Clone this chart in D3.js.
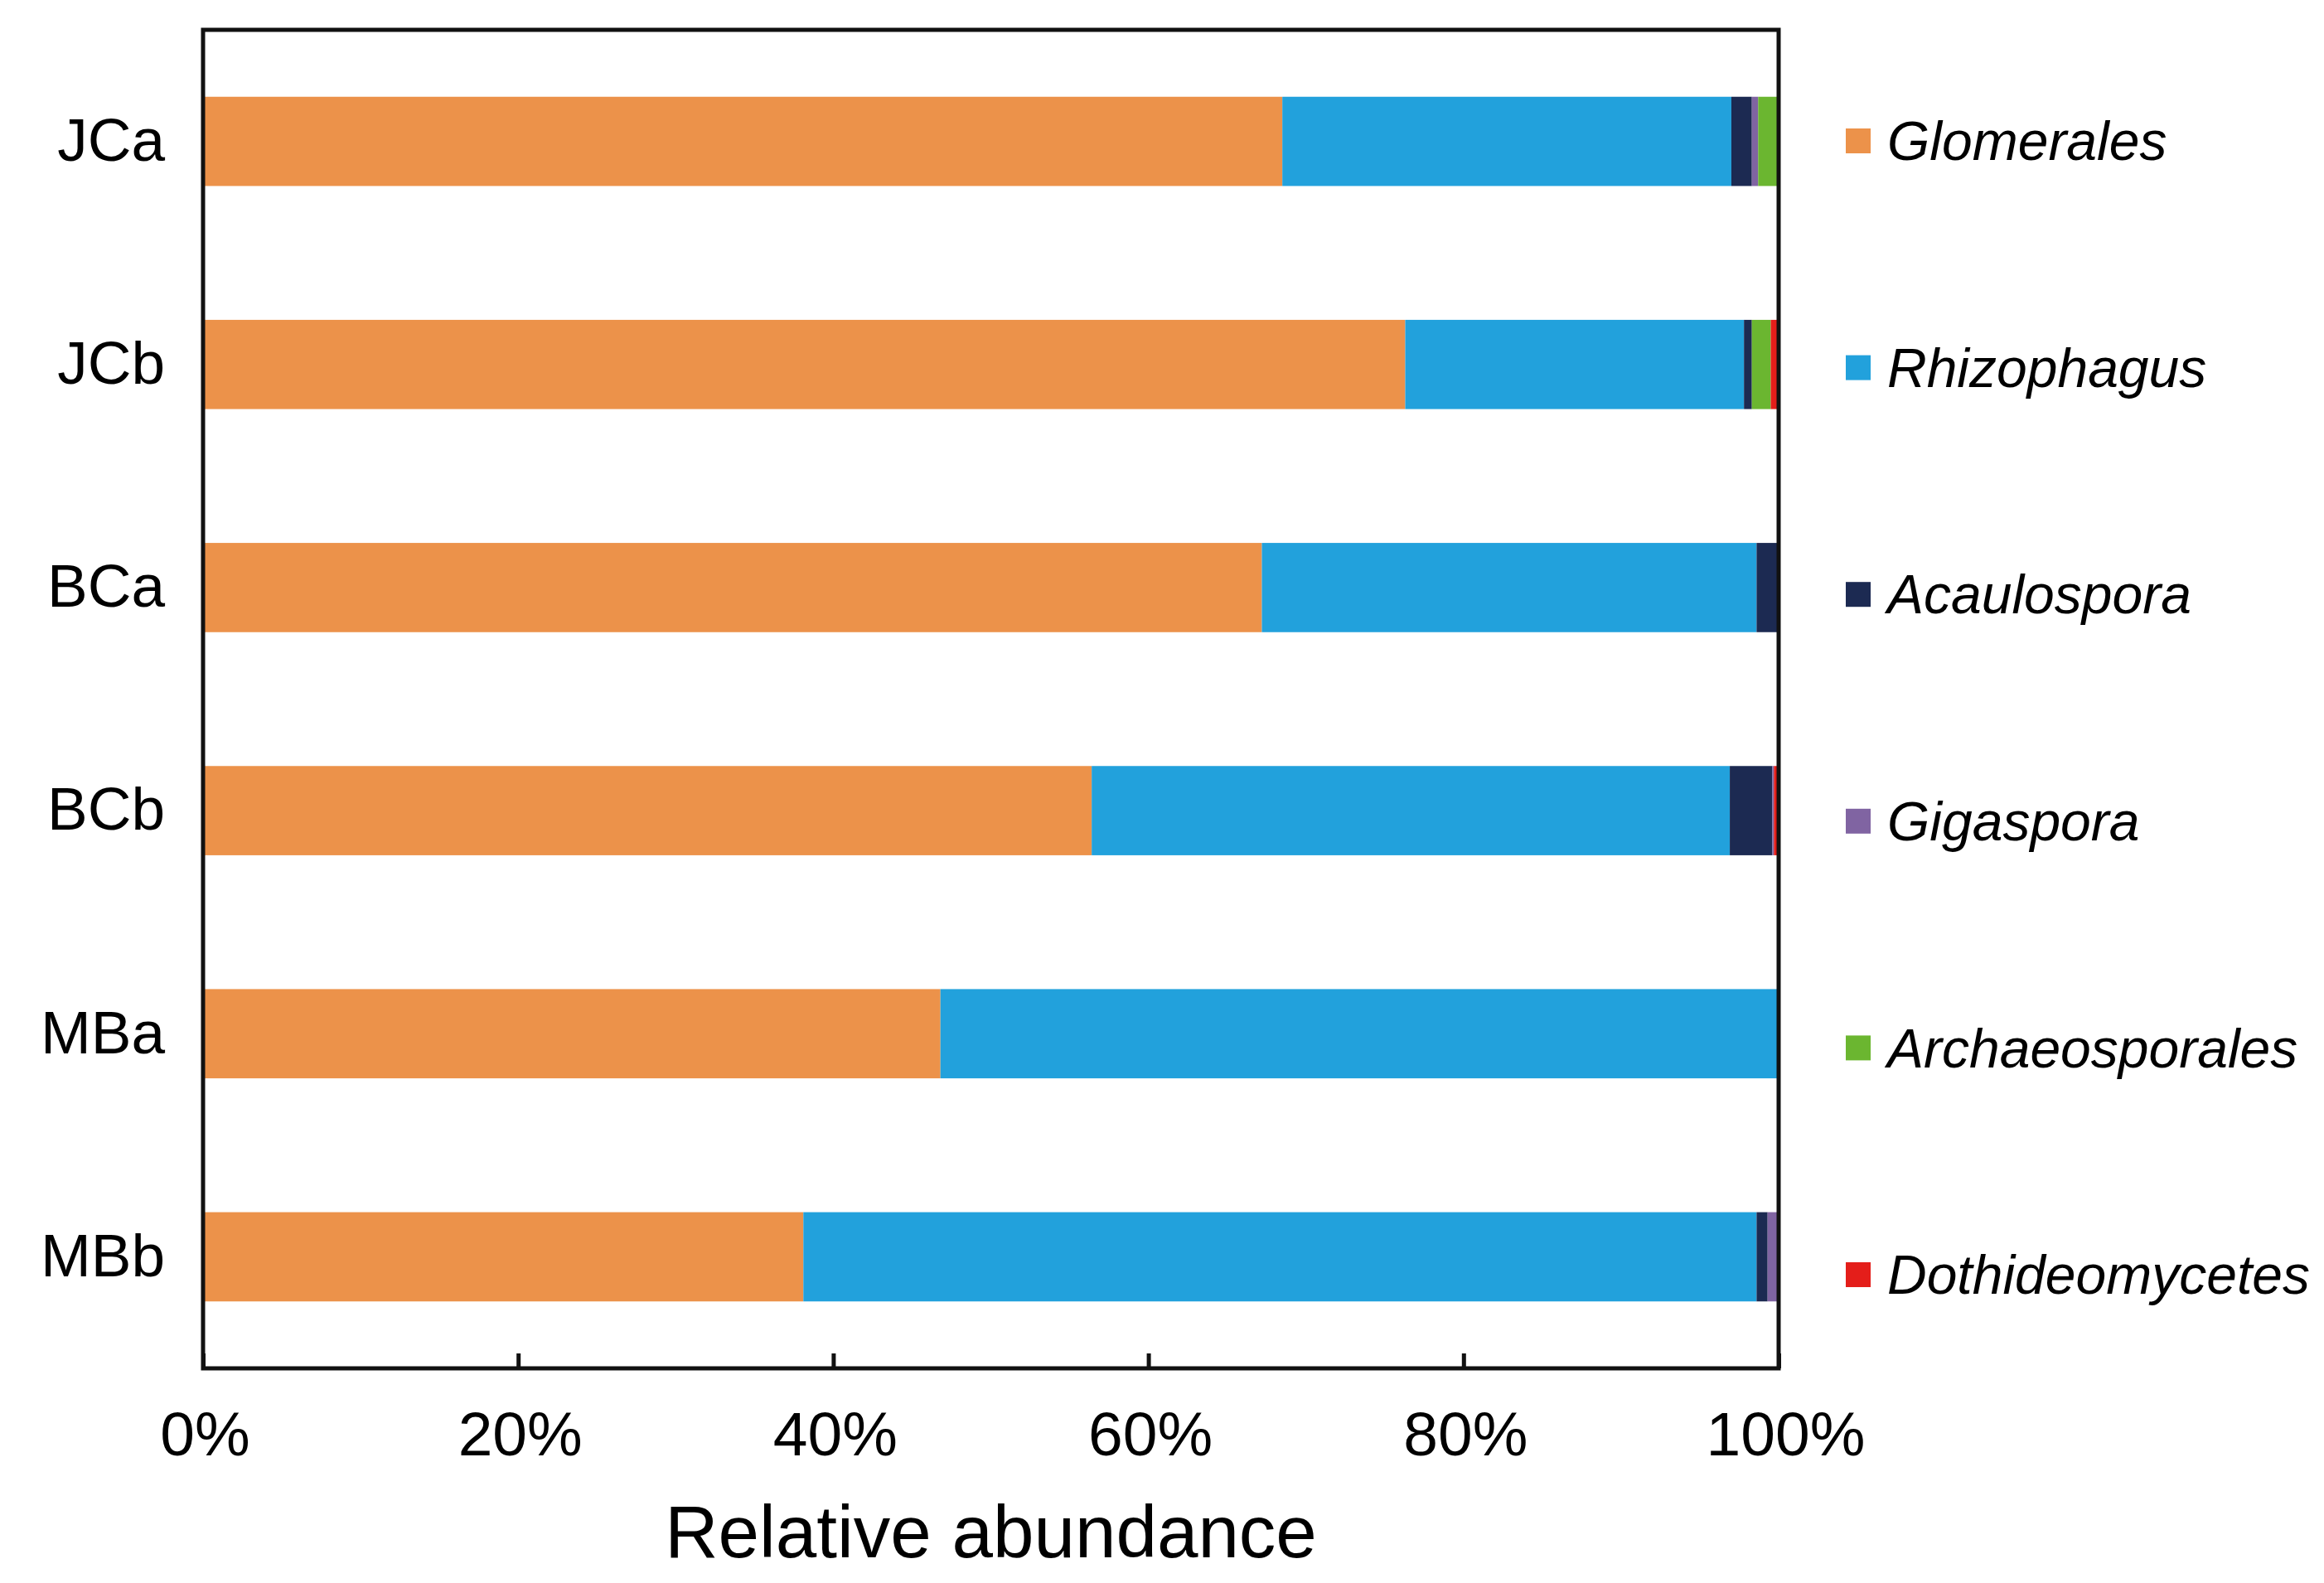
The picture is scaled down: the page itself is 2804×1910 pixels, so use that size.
<!DOCTYPE html>
<html>
<head>
<meta charset="utf-8">
<script src="https://cdn.jsdelivr.net/npm/d3@7"></script>
<style>
  body { margin: 0; background: #fff; }
  text { font-family: "Liberation Sans", Arial, sans-serif; fill: #000; }
</style>
</head>
<body>
<div id="chart"></div>
<script>
// samples and taxa
var samples = ["JCa", "JCb", "BCa", "BCb", "MBa", "MBb"];
var taxa = ["Glomerales", "Rhizophagus", "Acaulospora", "Gigaspora", "Archaeosporales", "Dothideomycetes"];
var taxaColors = ["#ec924a", "#22a1dc", "#1c2a52", "#8064a2", "#6bb630", "#e41e1a"];

// relative abundance (%) per taxon, in sample order
var glomerales      = [68.5, 76.3, 67.2, 56.4, 46.8, 38.1];
var rhizophagus     = [28.5, 21.5, 31.4, 40.5, 53.2, 60.5];
var acaulospora     = [1.3, 0.5, 1.3, 2.7, 0, 0.7];
var gigaspora       = [0.4, 0, 0.1, 0.1, 0, 0.6];
var archaeosporales = [1.3, 1.2, 0, 0, 0, 0];
var dothideomycetes = [0, 0.5, 0, 0.3, 0, 0.1];

var xTicks = [0, 20, 40, 60, 80, 100];

var svgWidth = 2804;
var svgHeight = 1910;

var margin = { top: 36, right: 658, bottom: 259, left: 245 };
var width = svgWidth - margin.left - margin.right;
var height = svgHeight - margin.top - margin.bottom;

var svg = d3.select("#chart").append("svg")
  .attr("width", svgWidth)
  .attr("height", svgHeight);

var chartGroup = svg.append("g")
  .attr("transform", `translate(${margin.left}, ${margin.top})`);

// build rows for the stack
var seriesValues = [glomerales, rhizophagus, acaulospora, gigaspora, archaeosporales, dothideomycetes];
var rows = samples.map(function (s, i) {
  var row = { sample: s };
  taxa.forEach(function (t, j) { row[t] = seriesValues[j][i]; });
  return row;
});

var stacked = d3.stack().keys(taxa)(rows);

var xScale = d3.scaleLinear().domain([0, 100]).range([0, width]);
var yScale = d3.scaleBand().domain(samples).range([0, height])
  .paddingInner(0.6).paddingOuter(0.3);
var color = d3.scaleOrdinal().domain(taxa).range(taxaColors);

// bars
chartGroup.selectAll(".layer")
  .data(stacked)
  .enter().append("g")
  .attr("class", "layer")
  .attr("fill", function (d) { return color(d.key); })
  .selectAll("rect")
  .data(function (d) { return d; })
  .enter().append("rect")
  .attr("x", function (d) { return xScale(d[0]); })
  .attr("y", function (d) { return yScale(d.data.sample); })
  .attr("width", function (d) { return xScale(d[1]) - xScale(d[0]); })
  .attr("height", yScale.bandwidth());

// frame
chartGroup.append("rect")
  .attr("width", width)
  .attr("height", height)
  .attr("fill", "none")
  .attr("stroke", "#111")
  .attr("stroke-width", 5);

// x axis, ticks pointing inward
var bottomAxis = d3.axisBottom(xScale)
  .tickValues(xTicks)
  .tickSizeInner(-18)
  .tickSizeOuter(0)
  .tickPadding(52)
  .tickFormat(function (d) { return d + "%"; });

var xAxis = chartGroup.append("g")
  .attr("transform", `translate(0, ${height})`)
  .call(bottomAxis);
xAxis.select(".domain").remove();
xAxis.selectAll(".tick line").attr("stroke", "#111").attr("stroke-width", 5);
xAxis.selectAll(".tick text")
  .attr("dx", function (d) { return d === 100 ? 8 : 2; })
  .style("font-size", "75px")
  .style("font-family", "Liberation Sans, Arial, sans-serif")
  .attr("fill", "#000");

// y labels
var leftAxis = d3.axisLeft(yScale).tickSize(0).tickPadding(46);
var yAxis = chartGroup.append("g").call(leftAxis);
yAxis.select(".domain").remove();
yAxis.selectAll(".tick text")
  .style("font-size", "73px")
  .style("font-family", "Liberation Sans, Arial, sans-serif")
  .attr("fill", "#000");

// axis title
chartGroup.append("text")
  .attr("x", width / 2)
  .attr("y", height + 228)
  .attr("text-anchor", "middle")
  .style("font-size", "89px")
  .text("Relative abundance");

// legend
var legendY = d3.scalePoint().domain(taxa).range([134, 1502]);
var legend = chartGroup.selectAll(".legend")
  .data(taxa)
  .enter().append("g")
  .attr("class", "legend")
  .attr("transform", function (d) { return `translate(${width + 81}, ${legendY(d)})`; });

legend.append("rect")
  .attr("x", 0)
  .attr("y", -15)
  .attr("width", 30)
  .attr("height", 30)
  .attr("fill", function (d) { return color(d); });

legend.append("text")
  .attr("x", 50)
  .attr("dy", "0.35em")
  .style("font-size", "66px")
  .style("font-style", "italic")
  .text(function (d) { return d; });
</script>
</body>
</html>
